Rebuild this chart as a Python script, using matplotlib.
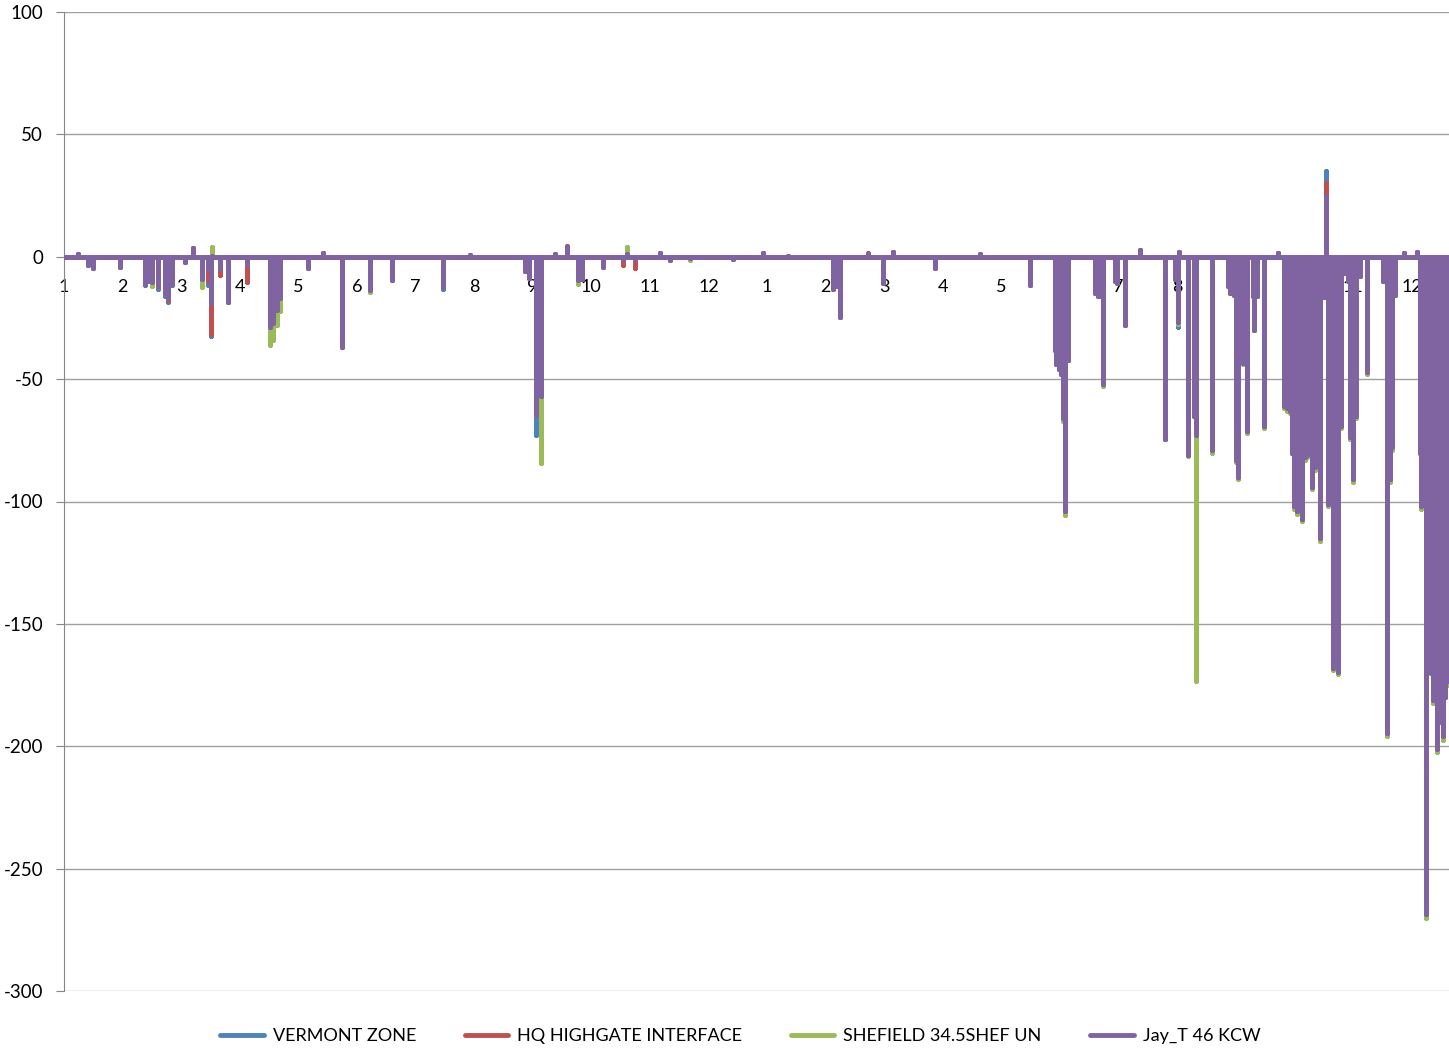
import numpy as np
import matplotlib
matplotlib.use("Agg")
import matplotlib.pyplot as plt
import matplotlib.patheffects as pe

plt.rcParams['font.family'] = ['Lato', 'DejaVu Sans']
plt.rcParams['axes.unicode_minus'] = False

# month labels (two years, hourly data compressed to month index)
month_labels = [str(m) for m in range(1, 13)] * 2

# spike positions (in months from the first Jan) and the value of each series there
spike_month = [0.24, 0.41, 0.49, 0.96, 1.38, 1.43, 1.50, 1.60, 1.72, 1.77,
               1.84, 2.06, 2.20, 2.35, 2.46, 2.51, 2.53, 2.66, 2.80, 3.12,
               3.52, 3.57, 3.63, 3.69, 4.16, 4.42, 4.74, 5.22, 5.60, 6.47,
               6.93, 7.87, 7.94, 8.05, 8.14, 8.38, 8.58, 8.77, 8.84, 9.20,
               9.54, 9.61, 9.74, 10.17, 10.34, 10.68, 11.42,
               11.93, 12.35, 13.12, 13.17, 13.24, 13.72, 13.98, 14.15, 14.86,
               15.63, 16.48, 16.91, 16.94, 16.98, 17.01, 17.05, 17.08, 17.13, 17.59,
               17.65, 17.68, 17.73, 17.94, 17.97, 18.11, 18.36, 18.79, 18.96, 19.01,
               19.03, 19.18, 19.28, 19.33, 19.59, 19.86, 19.91, 19.97, 20.00, 20.03,
               20.12, 20.20, 20.29, 20.32, 20.37, 20.49, 20.72, 20.82, 20.87, 20.92,
               20.96, 20.99, 21.04, 21.09, 21.13, 21.18, 21.21, 21.25, 21.30, 21.35,
               21.38, 21.43, 21.50, 21.54, 21.57, 21.62, 21.66, 21.71, 21.74, 21.79,
               21.86, 21.91, 21.95, 22.00, 22.05, 22.12, 22.24, 22.51, 22.58, 22.63,
               22.66, 22.71, 22.88, 23.09, 23.14, 23.17, 23.24, 23.33, 23.36, 23.40,
               23.43, 23.46, 23.50, 23.53, 23.58, 23.61]

jay = [1, -3.4, -4.6, -4.2, -11, -10, -10.5, -11.5, -15, -17,
       -11, -2, 3.5, -9, -5, -19, 0.5, -5, -18.5, -3,
       -28.6, -27, -21.8, -17, -4.6, 1.5, -36.8, -13.5, -9.5, -12.3,
       0.8, -6, -8.7, -64.7, -57, 1, 4, -9.5, -9, -4,
       -1, 1, -1, 1.5, -1.5, -0.5, -1,
       1.5, 0.5, -13, -12, -24.5, 1, -10.8, 2, -4.6,
       1, -11.5, -38, -44, -46, -48, -66, -104, -42, -15,
       -16, -16, -52, -10, -10.8, -28, 2.7, -74.6, -9, -26.5,
       2, -81, -65, -73, -79, -12, -15, -15.6, -83, -90,
       -43.6, -71, -16, -30, -16, -69, 1.5, -61, -62, -63,
       -80, -102, -104, -90, -107, -82, -81, -70, -94, -86,
       -60, -115, -16.5, 25, -101, -70, -168, -100, -169.5, -69,
       -6.7, -10, -73.5, -90.8, -65, -8, -47, -10, -194.5, -91,
       -77.7, -15.7, 1.5, 2, -80, -102, -268.5, -170, -181, -175,
       -201, -185, -190, -196, -180, -173.5]

shefield = [1, -3.4, -4.6, -4.2, -11, -10, -11.8, -11.5, -15, -17,
            -11, -2, 3.5, -12.4, -5, -19, 4, -5, -18.5, -3,
            -36, -34, -27.9, -22, -4.6, 1.5, -36.8, -14.5, -9.5, -12.3,
            0.8, -6, -8.7, -64.7, -84.3, 1, 4, -11, -9, -4,
            -1, 4, -1, 1.5, -1.5, -1.5, -1,
            1.5, 0.5, -13, -12, -24.5, 1, -10.8, 2, -4.6,
            1, -11.5, -38, -44, -46, -48, -67, -105.5, -42, -15,
            -16, -16, -53, -10, -10.8, -28, 2.7, -74.6, -9, -27.5,
            2, -81.5, -65, -173.5, -80, -12, -15, -15.6, -84, -91,
            -44, -72, -16, -30, -16, -70, 1.5, -62, -63, -64,
            -80, -103, -105, -90, -108, -83, -82, -70, -95, -87,
            -60, -116, -16.5, 24, -102, -70, -169, -100, -170.5, -70,
            -6.7, -10, -74.5, -92, -66, -8, -48, -10, -196, -92,
            -79, -15.7, 1.5, 2, -80, -103, -270, -170, -182.5, -175,
            -202.5, -185, -190, -197.5, -180, -175]

hq = [1, -3.4, -4.6, -4.2, -11, -10, -10.5, -12, -15, -17.5,
      -11, -2, 3.5, -9, -10, -31.5, 0.5, -7.5, -18.5, -10.3,
      -28.6, -27, -21.8, -17, -4.6, 1.5, -36.8, -13.5, -9.5, -12.3,
      0.8, -6, -8.7, -64.7, -57, 1, 4.5, -9.5, -9, -4,
      -3.4, 1, -4.6, 1.5, -1.5, -0.5, -1,
      1.5, 0.5, -13, -12, -24.5, 1.5, -10.8, 2, -4.6,
      1, -11.5, -38, -44, -46, -48, -66, -104, -42, -15,
      -16, -16, -52, -10, -10.8, -28, 2.7, -74.6, -9, -27,
      2, -81, -65, -73, -79, -12, -15, -15.6, -83, -90,
      -43.6, -71, -16, -30, -16, -69, 1.5, -61, -62, -63,
      -80, -102, -104, -90, -107, -82, -81, -70, -94, -86,
      -60, -115, -16.5, 30, -101, -70, -168, -100, -169.5, -69,
      -6.7, -10, -73.5, -90.8, -65, -8, -47, -10, -194.5, -91,
      -77.7, -15.7, 1.5, 2, -80, -102, -268.5, -170, -181, -175,
      -201, -185, -190, -196, -180, -173.5]

vermont = [1, -3.4, -4.6, -4.2, -11.5, -10, -10.5, -13, -16, -18.5,
           -11.5, -2, 3.5, -9, -11.5, -32.5, 0.5, -5.5, -18.5, -3,
           -28.6, -27, -21.8, -17, -4.6, 1.5, -36.8, -13.5, -9.5, -13,
           0.8, -6, -8.7, -72.8, -57, 1, 4, -9.5, -9, -4,
           -1, 1, -1, 1.5, -1.5, -0.5, -1,
           1.5, 0.5, -13, -12, -24.5, 1, -10.8, 2, -4.6,
           1, -11.5, -38, -44, -46, -48, -66, -104, -42, -15,
           -16, -16, -52, -10, -10.8, -28, 2.7, -74.6, -9, -28.5,
           2, -81, -65, -73, -79, -12, -15, -15.6, -83, -90,
           -43.6, -71, -16, -30, -16, -69, 1.5, -61, -62, -63,
           -80, -102, -104, -90, -107, -82, -81, -70, -94, -86,
           -60, -115, -16.5, 35, -101, -70, -168, -100, -169.5, -69,
           -6.7, -10, -73.5, -90.8, -65, -8, -47, -10, -194.5, -91,
           -77.7, -15.7, 1.5, 2, -80, -102, -268.5, -170, -181, -175,
           -201, -185, -190, -196, -180, -173.5]

series = [("VERMONT ZONE", vermont, "#4F81BD"),
          ("HQ HIGHGATE INTERFACE", hq, "#C0504D"),
          ("SHEFIELD 34.5SHEF UN", shefield, "#9BBB59"),
          ("Jay_T 46 KCW", jay, "#8064A2")]

x_end = 23.64


def spike_path(months, values):
    # baseline at 0, each spike drops to its value and comes back
    xs, ys = [0.0], [0.0]
    for m, v in zip(months, values):
        xs += [m, m, m]
        ys += [0.0, v, 0.0]
    xs.append(x_end)
    ys.append(0.0)
    return xs, ys


fig = plt.figure(figsize=(14.49, 10.48), dpi=100)
ax = fig.add_axes([64 / 1449, 1 - 991 / 1048, 1 - 64 / 1449, (991 - 12) / 1048])

for name, vals, col in series:
    xs, ys = spike_path(spike_month, vals)
    ax.plot(xs, ys, color=col, lw=3.6, label=name, solid_capstyle="round",
            solid_joinstyle="round", zorder=3,
            path_effects=[pe.SimpleLineShadow(offset=(1.0, -3.6), shadow_color="#808080", alpha=0.85),
                          pe.Normal()])

ax.set_xlim(0, x_end)
ax.set_ylim(-300, 100)
ax.set_yticks(np.arange(-300, 101, 50))
ax.yaxis.grid(True, color="#a0a0a0", lw=1.0)
ax.set_axisbelow(True)

ax.set_xticks(range(24))
ax.set_xticklabels(month_labels)
ax.spines["bottom"].set_position(("data", 0))
ax.spines["bottom"].set_visible(False)
ax.spines["top"].set_visible(False)
ax.spines["right"].set_visible(False)
ax.spines["left"].set_color("#868686")
ax.tick_params(axis="x", length=0, pad=16, labelsize=13, colors="#000000")
ax.tick_params(axis="y", length=6, color="#868686", labelsize=13.5, colors="#000000", pad=9)

handles, labels = ax.get_legend_handles_labels()
for h in handles:
    h.set_path_effects([])
leg = fig.legend(handles, labels, loc="lower center", bbox_to_anchor=(0.511, -0.012), ncol=4,
                 frameon=False, fontsize=13, handlelength=2.4, handletextpad=0.5,
                 columnspacing=2.7)
for line in leg.get_lines():
    line.set_linewidth(3.5)

fig.savefig("out.png", dpi=100)
